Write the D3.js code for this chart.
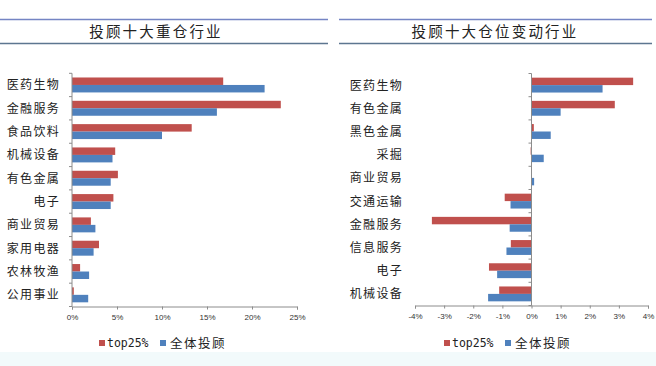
<!DOCTYPE html>
<html><head><meta charset="utf-8">
<script src="https://cdn.jsdelivr.net/npm/d3@7"></script>
<style>
body{margin:0;background:#fff;}
svg{display:block;}
</style></head>
<body>
<svg id="c" width="656" height="366"></svg>
<script>
const seriesNames = ["top25%", "全体投顾"];
const colors = ["#c0504d", "#4f81bd"];

const leftTitle = "投顾十大重仓行业";
const leftCats = ["医药生物","金融服务","食品饮料","机械设备","有色金属","电子","商业贸易","家用电器","农林牧渔","公用事业"];
const leftTop25 = [16.8, 23.2, 13.3, 4.8, 5.1, 4.6, 2.1, 3.0, 0.9, 0.2];
const leftAll   = [21.4, 16.1, 10.0, 4.5, 4.3, 4.3, 2.6, 2.4, 1.9, 1.8];
const leftTicks = [0, 5, 10, 15, 20, 25];

const rightTitle = "投顾十大仓位变动行业";
const rightCats = ["医药生物","有色金属","黑色金属","采掘","商业贸易","交通运输","金融服务","信息服务","电子","机械设备"];
const rightTop25 = [3.49, 2.86, 0.08, -0.03, 0.0, -0.92, -3.42, -0.71, -1.46, -1.11];
const rightAll   = [2.44, 1.00, 0.66, 0.42, 0.09, -0.72, -0.75, -0.86, -1.18, -1.49];
const rightTicks = [-4, -3, -2, -1, 0, 1, 2, 3, 4];

const svg = d3.select("#c");
const cjk = "'Noto Sans CJK SC','Noto Sans',sans-serif";

// bottom light band
svg.append("rect").attr("x",0).attr("y",352).attr("width",656).attr("height",14).attr("fill","#f2fafb");

function panel(o){
  // title lines
  svg.append("line").attr("x1",o.lx1).attr("x2",o.lx2).attr("y1",19.5).attr("y2",19.5).attr("stroke","#7585c4").attr("stroke-width",1.3);
  svg.append("line").attr("x1",o.lx1).attr("x2",o.lx2).attr("y1",43.5).attr("y2",43.5).attr("stroke","#5d7690").attr("stroke-width",1.3);
  svg.append("text").attr("x",o.tx).attr("y",37).attr("text-anchor","middle")
    .attr("font-family",cjk).attr("font-size",14.5).attr("letter-spacing","2.2px").attr("fill","#222").text(o.title);

  const x = d3.scaleLinear().domain(o.domain).range(o.xr);
  const y = d3.scaleBand().domain(o.cats).range([o.y0,o.y1]);
  const inner = d3.scaleBand().domain(seriesNames).range([0,y.bandwidth()]).paddingOuter(0.56).paddingInner(0);
  const g = svg.append("g");
  const data = o.cats.map((c,i)=>({c, v:[o.s1[i],o.s2[i]]}));
  data.forEach(d=>{
    d.v.forEach((v,k)=>{
      g.append("rect")
        .attr("x", x(Math.min(0,v)))
        .attr("width", Math.abs(x(v)-x(0)))
        .attr("y", y(d.c)+inner(seriesNames[k]))
        .attr("height", inner.bandwidth())
        .attr("fill", colors[k]);
    });
  });
  // y axis
  const x0 = x(0);
  g.append("line").attr("x1",x0).attr("x2",x0).attr("y1",o.y0).attr("y2",o.y1).attr("stroke","#8c8c8c");
  for(let i=0;i<=o.cats.length;i++){
    const yy = o.y0 + i*y.step();
    g.append("line").attr("x1",x0-3).attr("x2",x0).attr("y1",yy).attr("y2",yy).attr("stroke","#8c8c8c");
  }
  o.cats.forEach(c=>{
    g.append("text").attr("x",o.labelX).attr("y",y(c)+y.bandwidth()/2+4.5).attr("text-anchor","end")
      .attr("font-family",cjk).attr("font-size",12).attr("letter-spacing","1.3px").attr("fill","#222").text(c);
  });
  // x axis
  const xa = d3.axisBottom(x).tickValues(o.ticks).tickSize(3).tickFormat(d=>d+"%");
  const ax = svg.append("g").attr("transform",`translate(0,${o.y1})`).call(xa);
  ax.select(".domain").attr("stroke","#8c8c8c");
  ax.selectAll(".tick line").attr("stroke","#8c8c8c");
  ax.selectAll("text").attr("font-family","'Liberation Sans',Arial,sans-serif").attr("font-size",8).attr("fill","#333").attr("dy","0.9em");
  // legend
  const lg = svg.append("g");
  lg.append("rect").attr("x",o.leg[0]).attr("y",340).attr("width",6).attr("height",6).attr("fill",colors[0]);
  lg.append("text").attr("x",o.leg[0]+8).attr("y",347).attr("font-family","'DejaVu Sans Mono',monospace").attr("font-size",11.5).attr("fill","#222").text(seriesNames[0]);
  lg.append("rect").attr("x",o.leg[1]).attr("y",340).attr("width",6).attr("height",6).attr("fill",colors[1]);
  lg.append("text").attr("x",o.leg[1]+10).attr("y",348).attr("font-family",cjk).attr("font-size",12.5).attr("letter-spacing","1.5px").attr("fill","#222").text(seriesNames[1]);
}

panel({title:leftTitle, lx1:0, lx2:328, tx:156, cats:leftCats, s1:leftTop25, s2:leftAll,
  domain:[0,25], xr:[72,297], ticks:leftTicks, y0:73.3, y1:306.5, labelX:60, leg:[99,160]});
panel({title:rightTitle, lx1:339, lx2:652, tx:495, cats:rightCats, s1:rightTop25, s2:rightAll,
  domain:[-4,4], xr:[415,648], ticks:rightTicks, y0:73.5, y1:305.5, labelX:403, leg:[444,505]});
</script>
</body></html>
